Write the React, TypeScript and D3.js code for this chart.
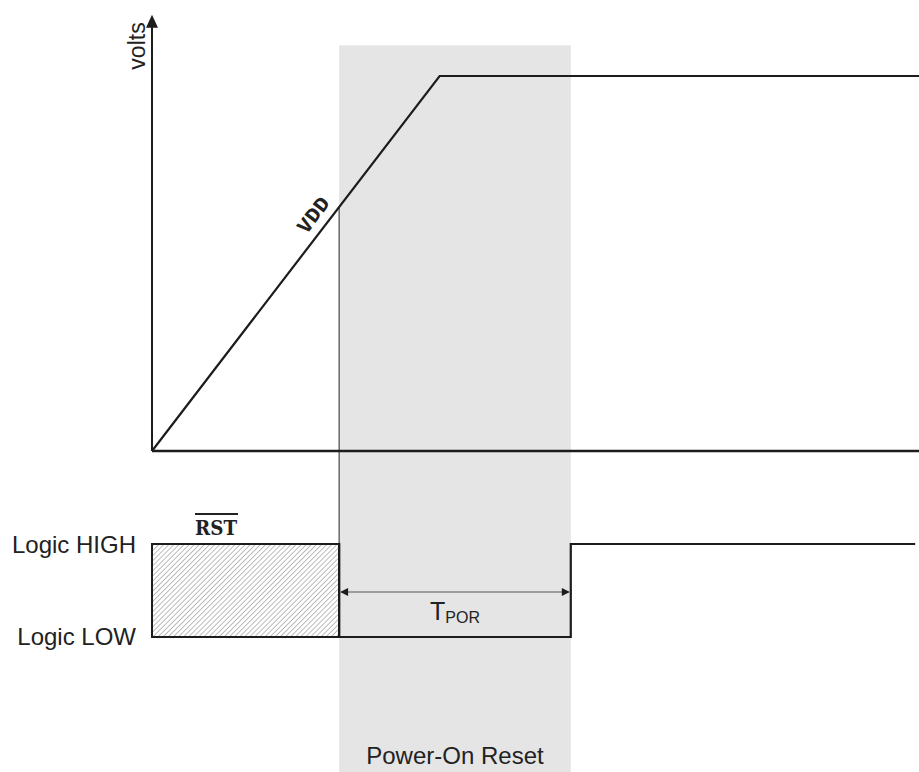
import React from "react";
import * as d3 from "d3";

// time axis (arbitrary units, 0..100)
const timeDomain = [0, 100];
// VDD ramp (time, volts)
const vddTime = [0, 37.5, 100];
const vddVolts = [0, 3.3, 3.3];
const voltsAxisMax = 3.84;
const bandTopVolts = 3.57;
// RST signal (time, logic level)
const rstTime = [0, 24.4, 24.4, 54.6, 54.6, 99.5];
const rstLevel = [1, 1, 0, 0, 1, 1];
const porStart = 24.4;
const porEnd = 54.6;
const levelLabels = ["Logic LOW", "Logic HIGH"];
const vddCrossVolts = 2.15;
const vddLabelTime = 22.65;

export default function App() {
  const W = 919, H = 772;
  const x = d3.scaleLinear().domain(timeDomain).range([152, 919]);
  const y = d3.scaleLinear().domain([0, 3.3]).range([451, 76]);
  const ly = d3.scaleLinear().domain([0, 1]).range([637, 544]);
  const ink = "#1c1c1c";

  const vddLine = d3.line<number>().x((_, i) => x(vddTime[i])).y((v) => y(v));
  const rstLine = d3.line<number>().x((_, i) => x(rstTime[i])).y((v) => ly(v));

  const x0 = x(0), y0 = y(0);
  const yTop = y(voltsAxisMax);
  const bx0 = x(porStart), bx1 = x(porEnd);
  const angRad = Math.atan2(y(0) - y(3.3), x(37.5) - x(0));
  const ang = (angRad * 180) / Math.PI;

  // VDD label: foot point on the ramp, offset along the upper-left normal
  const fx = x(vddLabelTime), fy = y((vddLabelTime / 37.5) * 3.3);
  const off = 9;
  const lx = fx - Math.sin(angRad) * off, lyv = fy - Math.cos(angRad) * off;
  const arrowY = 592;

  return (
    <svg width={W} height={H} style={{ position: "absolute", left: 0, top: 0, background: "#fff" }}
      fontFamily="'Liberation Sans', Arial, sans-serif">
      <defs>
        <pattern id="hatch" width="3.6" height="3.6" patternUnits="userSpaceOnUse" patternTransform="rotate(45)">
          <rect width="3.6" height="3.6" fill="#fff" />
          <line x1="0" y1="0" x2="0" y2="3.6" stroke="#8f8f8f" strokeWidth="1.2" />
        </pattern>
      </defs>
      {/* Power-On Reset band */}
      <rect x={bx0} y={y(bandTopVolts)} width={bx1 - bx0} height={H - y(bandTopVolts)} fill="#e5e5e5" />
      {/* hatched unknown region */}
      <rect x={x0} y={ly(1)} width={bx0 - x0} height={ly(0) - ly(1)} fill="url(#hatch)" stroke={ink} strokeWidth={2} />
      {/* thin marker from VDD crossing */}
      <line x1={bx0} x2={bx0} y1={y(vddCrossVolts)} y2={ly(1)} stroke="#555" strokeWidth={1.3} />
      {/* axes */}
      <line x1={x0} x2={x0} y1={y0} y2={yTop + 10} stroke={ink} strokeWidth={2} />
      <path d={`M${x0},${yTop} L${x0 - 6},${yTop + 13} L${x0 + 6},${yTop + 13} Z`} fill={ink} />
      <line x1={x0} x2={W} y1={y0} y2={y0} stroke={ink} strokeWidth={2.4} />
      {/* VDD */}
      <path d={vddLine(vddVolts) || ""} fill="none" stroke={ink} strokeWidth={2.2} />
      {/* RST */}
      <path d={rstLine(rstLevel) || ""} fill="none" stroke={ink} strokeWidth={2.2} />
      {/* TPOR dimension arrow */}
      <line x1={bx0 + 2} x2={bx1 - 2} y1={arrowY} y2={arrowY} stroke="#555" strokeWidth={1.2} />
      <path d={`M${bx0 + 1},${arrowY} L${bx0 + 9},${arrowY - 4} L${bx0 + 9},${arrowY + 4} Z`} fill={ink} />
      <path d={`M${bx1 - 1},${arrowY} L${bx1 - 9},${arrowY - 4} L${bx1 - 9},${arrowY + 4} Z`} fill={ink} />
      <text x={(bx0 + bx1) / 2} y={620} textAnchor="middle" fill="#222">
        <tspan fontSize={25}>T</tspan>
        <tspan fontSize={16} dy={3}>POR</tspan>
      </text>
      {/* labels */}
      <text transform={`translate(145,46) rotate(-90)`} textAnchor="middle" fontSize={23} fill="#222">volts</text>
      <text transform={`translate(${lx},${lyv}) rotate(${-ang})`} textAnchor="middle"
        fontSize={19} fontWeight="bold" fontFamily="'DejaVu Sans Mono', 'Liberation Mono', monospace" fill="#222"
        textLength={40} lengthAdjust="spacingAndGlyphs">VDD</text>
      <text x={216} y={535} textAnchor="middle" fontSize={21} fontWeight="bold"
        fontFamily="'DejaVu Serif', 'Liberation Serif', serif" fill="#222" textLength={42} lengthAdjust="spacingAndGlyphs">RST</text>
      <line x1={195} x2={238} y1={514} y2={514} stroke="#222" strokeWidth={2} />
      <text x={136} y={ly(1) + 9} textAnchor="end" fontSize={24} fill="#222">{levelLabels[1]}</text>
      <text x={136} y={ly(0) + 8} textAnchor="end" fontSize={24} fill="#222">{levelLabels[0]}</text>
      <text x={(bx0 + bx1) / 2} y={764} textAnchor="middle" fontSize={24} fill="#222">Power-On Reset</text>
    </svg>
  );
}
